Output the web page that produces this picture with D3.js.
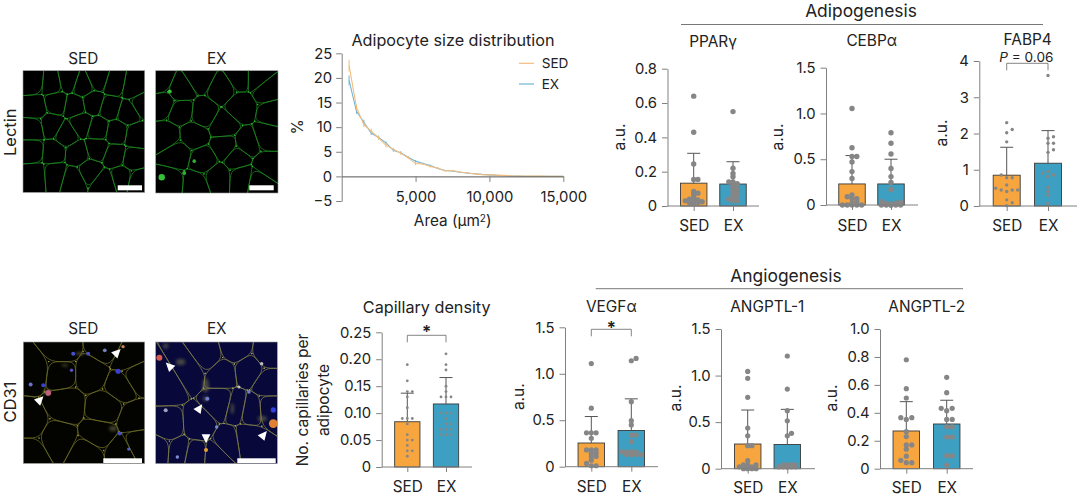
<!DOCTYPE html>
<html>
<head>
<meta charset="utf-8">
<script src="https://d3js.org/d3.v7.min.js"></script>
<style>
  html, body { margin: 0; padding: 0; background: #fff; }
  svg { display: block; }
  text { font-family: Inter, "Noto Sans", sans-serif; fill: #222; }
</style>
</head>
<body>
<div id="chart"></div>
<script>
var groups = ["SED", "EX"];

// bar heights, upper error bars and single animals
var ppargMean = [0.133, 0.128], ppargErr = [0.307, 0.258];
var ppargSed = [0.64, 0.43, 0.245, 0.155, 0.155, 0.085, 0.075, 0.07, 0.05, 0.04, 0.035, 0.03, 0.03, 0.025, 0.02, 0.02, 0.015];
var ppargEx = [0.55, 0.22, 0.19, 0.17, 0.14, 0.14, 0.13, 0.125, 0.11, 0.1, 0.09, 0.08, 0.07, 0.06, 0.05, 0.04, 0.03, 0.03];

var cebpMean = [0.23, 0.23], cebpErr = [0.54, 0.5];
var cebpSed = [1.055, 0.626, 0.53, 0.53, 0.47, 0.365, 0.29, 0.11, 0.09, 0.07, 0.07, 0.035, 0.02, 0, 0, 0, 0, 0];
var cebpEx = [0.79, 0.675, 0.557, 0.4, 0.31, 0.245, 0.17, 0.036, 0.03, 0.02, 0.02, 0.01, 0, 0, 0, 0, 0, 0];

var fabpMean = [0.85, 1.18], fabpErr = [1.62, 2.08];
var fabpSed = [2.3, 2.11, 2.02, 1.77, 0.855, 0.78, 0.78, 0.58, 0.49, 0.44, 0.44, 0.44, 0.4, 0.17, 0.09, 0.01];
var fabpEx = [3.6, 1.91, 1.87, 1.73, 1.73, 1.55, 1.48, 0.95, 0.9, 0.855, 0.81, 0.51, 0.4, 0.3, 0.07];

var capMean = [0.084, 0.117], capErr = [0.137, 0.166];
var capSed = [0.19, 0.16, 0.14, 0.14, 0.13, 0.11, 0.09, 0.09, 0.09, 0.08, 0.06, 0.05, 0.05, 0.04, 0.03, 0.03, 0.02];
var capEx = [0.21, 0.19, 0.18, 0.15, 0.14, 0.13, 0.13, 0.13, 0.1, 0.1, 0.1, 0.09, 0.08, 0.08, 0.07, 0.07, 0.07, 0.06, 0.06, 0.06];

var vegfMean = [0.255, 0.39], vegfErr = [0.54, 0.73];
var vegfSed = [1.11, 0.63, 0.365, 0.365, 0.365, 0.305, 0.18, 0.18, 0.18, 0.145, 0.145, 0.11, 0.11, 0.07, 0.035, 0.01, 0.01];
var vegfEx = [1.165, 1.14, 0.7, 0.495, 0.45, 0.34, 0.34, 0.27, 0.16, 0.16, 0.16, 0.16, 0.13, 0.13, 0.13, 0.13];

var ang1Mean = [0.265, 0.26], ang1Err = [0.63, 0.637];
var ang1Sed = [1.045, 0.97, 0.766, 0.437, 0.354, 0.247, 0.247, 0.086, 0.04, 0.04, 0.04, 0.02, 0.02, 0.02, 0, 0, 0, 0];
var ang1Ex = [1.21, 0.855, 0.623, 0.515, 0.38, 0.354, 0.04, 0.04, 0.04, 0.04, 0.02, 0.02, 0.02, 0.02, 0.02, 0.02];

var ang2Mean = [0.27, 0.32], ang2Err = [0.48, 0.49];
var ang2Sed = [0.78, 0.573, 0.506, 0.365, 0.365, 0.353, 0.265, 0.23, 0.17, 0.17, 0.14, 0.09, 0.06, 0.043, 0.043];
var ang2Ex = [0.654, 0.544, 0.432, 0.432, 0.415, 0.353, 0.353, 0.3, 0.3, 0.227, 0.227, 0.093, 0.093, 0.026];

// size distribution
var areaBins = [500, 1000, 1500, 2000, 2500, 3000, 3500, 4000, 4500, 5000, 5500, 6000, 6500, 7000, 7500,
                8000, 8500, 9000, 9500, 10000, 10500, 11000, 11500, 12000, 12500, 13000, 13500, 14000, 14500, 15000];
var sizeSed = [22.5, 14, 10.5, 9.2, 7.8, 6.3, 5.5, 4.7, 3.8, 2.6, 2.5, 2, 1.7, 1.1, 1.2,
               0.9, 0.7, 0.5, 0.35, 0.3, 0.25, 0.2, 0.1, 0.08, 0.06, 0.05, 0.05, 0.04, 0.03, 0.03];
var sizeEx = [19.5, 13.2, 11, 8.8, 7.9, 6.8, 5.3, 4.8, 3.9, 3.1, 2.6, 2.2, 1.6, 1.2, 1.1,
              0.85, 0.7, 0.55, 0.4, 0.3, 0.2, 0.15, 0.07, 0.05, 0.04, 0.03, 0.02, 0.02, 0.02, 0.02];
var sizeSedErr = [1.2, 0.6, 0.5, 0.5, 0.4, 0.4, 0.3, 0.3, 0.3, 0.3, 0.2, 0.2, 0.2, 0.1, 0.1,
                  0.1, 0.1, 0.1, 0.05, 0.05, 0.05, 0.05, 0.05, 0.03, 0.03, 0.03, 0.02, 0.02, 0.02, 0.02];
var sizeExErr = [1, 0.5, 0.5, 0.4, 0.4, 0.3, 0.3, 0.3, 0.2, 0.2, 0.2, 0.2, 0.1, 0.1, 0.1,
                 0.1, 0.1, 0.05, 0.05, 0.05, 0.05, 0.03, 0.03, 0.03, 0.02, 0.02, 0.02, 0.02, 0.02, 0.02];

// micrographs: cell centres, stained spots, haze and arrowheads, on a 365 wide image
var lectinSedCells = [[30,35],[88,40],[135,30],[180,45],[225,25],[275,40],[330,50],[35,110],[100,95],[155,105],[210,95],[262,110],[315,125],[355,100],
  [30,175],[85,165],[130,190],[175,160],[225,175],[280,185],[340,195],[30,240],[90,245],[165,250],[222,235],[275,255],[330,265],[35,315],[95,310],
  [150,325],[200,300],[245,335],[295,320],[345,330]];
var lectinExCells = [[73,58],[198,53],[143,128],[253,108],[333,58],[113,193],[203,163],[333,198],[208,228],[143,268],[273,218],
  [23,98],[33,198],[63,248],[43,333],[183,318],[303,328],[333,283],[133,20],[250,20],[303,20],[13,33],[243,258],[120,340],[75,120],[350,125],[260,320]];
var lectinExSpots = [[18,318,"#35c038",3.2],[42,62,"#35c038",2],[85,305,"#30b030",2],[115,270,"#30b030",1.8]];
var cd31SedCells = [[35,84],[110,24],[205,94],[310,49],[335,104],[295,129],[125,189],[245,199],[335,234],[20,244],[100,289],
  [20,334],[195,339],[230,279],[290,329],[110,94],[250,19],[345,300]];
var cd31ExCells = [[34,124],[99,84],[154,44],[199,94],[279,84],[339,124],[129,254],[39,259],[69,324],[239,194],[289,204],[279,294],
  [199,184],[214,304],[119,334],[179,339],[339,34],[10,320],[240,20],[340,200]];
var cd31SedSpots = [[150,35,"#4a50d0",2],[195,35,"#4a50d0",1.9],[285,88,"#3c3cd0",2.6],[145,85,"#5a50c0",1.7],[22,128,"#6a70d0",2],[60,130,"#3a40d0",2],
  [75,153,"#c06080",2.8],[290,275,"#4a50c0",2],[317,322,"#5060c0",1.7],[300,14,"#c08060",1.7],[245,25,"#7080c0",1.9]];
var cd31ExSpots = [[11,47,"#d85a50",3],[155,170,"#7080d0",2],[353,204,"#3040e0",2.6],[353,245,"#e08030",4.4],[151,324,"#e0a030",2],[183,255,"#7090d0",1.7],
  [280,150,"#7080d0",1.7],[318,65,"#c0c0c0",1.7],[250,135,"#c0c0c0",1.5],[65,345,"#8090d0",1.7],[30,205,"#a0a0c0",2]];
var cd31SedHaze = [[170,35,14,5],[125,70,10,4],[70,150,12,8],[270,260,12,8]];
var cd31ExHaze = [[150,130,10,22],[75,60,14,10],[230,200,5,16],[320,230,14,8],[30,12,8,8],[150,170,8,8]];
var cd31SedArrows = [[282,32,45],[50,174,45]];
var cd31ExArrows = [[41,72,-45],[131,199,35],[151,289,180],[324,279,40]];

var fig = { width: 1080, height: 498 };

var svg = d3.select("#chart").append("svg")
    .attr("width", fig.width)
    .attr("height", fig.height);

var defs = svg.append("defs");
defs.append("filter").attr("id", "soft").append("feGaussianBlur").attr("stdDeviation", 0.4);
defs.append("filter").attr("id", "spot").append("feGaussianBlur").attr("stdDeviation", 0.7);
defs.append("filter").attr("id", "wide").append("feGaussianBlur").attr("stdDeviation", 1.4);

micrograph({ id: "lsed", x0: 23, y0: 70.7, size: 121.7, bg: "#000", cells: lectinSedCells, line: "#1d8a20", junction: "#2fb833", bar: [117.7, 142, 185.3, 190.3] });
micrograph({ id: "lex", x0: 155.7, y0: 70.7, size: 122.3, bg: "#000", cells: lectinExCells, line: "#1d8a20", junction: "#2fb833", spots: lectinExSpots, bar: [249.3, 273.7, 185.3, 190.3] });
micrograph({ id: "csed", x0: 23.3, y0: 342, size: 121.4, bg: "#030300", cells: cd31SedCells, line: "#6e6e28", junction: "#9a9a3a", spots: cd31SedSpots,
             haze: cd31SedHaze, arrows: cd31SedArrows, bar: [103.3, 142, 458.3, 463] });
micrograph({ id: "cex", x0: 155.7, y0: 342, size: 121.6, bg: "#08083a", cells: cd31ExCells, line: "#7f7f4a", junction: "#a8a85a", spots: cd31ExSpots,
             haze: cd31ExHaze, arrows: cd31ExArrows, bar: [237.3, 275.7, 458.3, 463] });

label(83.3, 64, "SED");
label(216.7, 64, "EX");
label(83.3, 334, "SED");
label(216.7, 334, "EX");
sideLabel(10, 132.3, "Lectin").style("font-size", "16.5px");
sideLabel(10, 402, "CD31").style("font-size", "16.5px");

sizeChart();

header(861, 17, "Adipogenesis", 681, 1043, 24.5);
header(786, 282, "Angiogenesis", 595.7, 963, 288.7);

barPanel({ title: "PPARγ", titleX: 713, titleY: 47, axisX: 667.5, endX: 759, y0: 206, y1: 68.7, max: 0.8, ticks: [0, 0.2, 0.4, 0.6, 0.8],
           c: [693.7, 733], barW: 26.5, labelX: 619.5, labelY: 137, catY: 231, r: 2.7, gap: 4.2, mean: ppargMean, err: ppargErr, dots: [ppargSed, ppargEx] });
barPanel({ title: "CEBPα", titleX: 871.7, titleY: 46, axisX: 826, endX: 918, y0: 205, y1: 67.7, max: 1.5, ticks: [0, 0.5, 1, 1.5],
           c: [852, 891], barW: 26.5, labelX: 778, labelY: 137, catY: 231, r: 2.7, gap: 4.8, mean: cebpMean, err: cebpErr, dots: [cebpSed, cebpEx] });
barPanel({ title: "FABP4", titleX: 1027.7, titleY: 45, axisX: 979.3, endX: 1077, y0: 206, y1: 61, max: 4, ticks: [0, 1, 2, 3, 4], tickFmt: "d",
           c: [1006.7, 1048], barW: 27, labelX: 941.7, labelY: 133, catY: 231, r: 1.7, gap: 5.5, mean: fabpMean, err: fabpErr, dots: [fabpSed, fabpEx],
           bracket: { y: 63.3, drop: 7, p: true, textY: 62 } });
barPanel({ title: "Capillary density", titleX: 426.7, titleY: 312.7, titleSize: 16.2, axisX: 381.7, endX: 472, y0: 467, y1: 332.3, max: 0.25, ticks: [0, 0.05, 0.1, 0.15, 0.2, 0.25], tickFmt: ".2f",
           c: [407.3, 446], barW: 25.3, catY: 492, r: 1.4, gap: 5, mean: capMean, err: capErr, dots: [capSed, capEx],
           bracket: { y: 335.3, drop: 7, textY: 338 } });
barPanel({ title: "VEGFα", titleX: 611.3, titleY: 312.3, axisX: 565, endX: 658, y0: 466.7, y1: 327.3, max: 1.5, ticks: [0, 0.5, 1, 1.5],
           c: [591.3, 631.3], barW: 26.5, labelX: 519, labelY: 396.7, catY: 491.7, r: 2.6, gap: 4.8, mean: vegfMean, err: vegfErr, dots: [vegfSed, vegfEx],
           bracket: { y: 329.3, drop: 7, textY: 333.5 } });
barPanel({ title: "ANGPTL-1", titleX: 767.3, titleY: 312, axisX: 721, endX: 815, y0: 468.7, y1: 329, max: 1.5, ticks: [0, 0.5, 1, 1.5],
           c: [747.7, 787.3], barW: 26.5, labelX: 675.7, labelY: 398, catY: 493.3, r: 2.6, gap: 4.2, mean: ang1Mean, err: ang1Err, dots: [ang1Sed, ang1Ex] });
barPanel({ title: "ANGPTL-2", titleX: 926.7, titleY: 312, axisX: 880, endX: 973, y0: 468.7, y1: 329, max: 1, ticks: [0, 0.2, 0.4, 0.6, 0.8, 1],
           c: [906.3, 946.7], barW: 26.5, labelX: 831.7, labelY: 398, catY: 493.3, r: 2.6, gap: 5.5, mean: ang2Mean, err: ang2Err, dots: [ang2Sed, ang2Ex] });

// capillary y label sits on two lines
sideLabel(302.7, 400, "No. capillaries per");
sideLabel(323.3, 400, "adipocyte");

function label(x, y, txt){
    return svg.append("text")
              .attr("x", x)
              .attr("y", y)
              .attr("text-anchor", "middle")
              .style("font-size", "15.3px")
              .text(txt);
}

function sideLabel(x, y, txt){
    return svg.append("text")
              .attr("transform", "translate(" + x + "," + y + ") rotate(-90)")
              .attr("text-anchor", "middle")
              .attr("dy", "0.35em")
              .style("font-size", "15.5px")
              .text(txt);
}

function header(x, y, txt, x1, x2, lineY){
    label(x, y, txt).style("font-size", "17.4px");
    svg.append("line")
       .attr("x1", x1).attr("x2", x2)
       .attr("y1", lineY).attr("y2", lineY)
       .attr("stroke", "#555")
       .attr("stroke-width", 0.8);
}

function styleAxis(g){
    g.select(".domain").attr("stroke", "#808080").attr("stroke-width", 1);
    g.selectAll(".tick line").attr("stroke", "#808080").attr("stroke-width", 1);
    g.selectAll(".tick text").style("font-size", "14.8px").style("fill", "#222");
}

// rows of dots, same value goes side by side, kept inside the bar
function swarm(values, y, gap, limit){
    var placed = [];
    values.slice().sort(d3.ascending).forEach(function(v){
        var py = y(v), best = 0, bestDist = -1;
        for (var k = 0; k * gap / 2 <= limit; k++){
            var off = (k % 2 ? 1 : -1) * Math.ceil(k / 2) * gap;
            if (Math.abs(off) > limit) continue;
            var dist = d3.min(placed, p => Math.hypot(p.off - off, (p.py - py) * 1.6));
            if (dist === undefined || dist >= gap * 0.95){
                best = off;
                bestDist = Infinity;
                break;
            }
            if (dist > bestDist){
                best = off;
                bestDist = dist;
            }
        }
        placed.push({ off: best, py: py });
    });
    return placed;
}

function barPanel(p){
    var x = d3.scalePoint().domain(groups).range(p.c);
    var y = d3.scaleLinear().domain([0, p.max]).range([p.y0, p.y1]);
    var colors = d3.scaleOrdinal().domain(groups).range(["#f7a63f", "#3d9fc1"]);
    var g = svg.append("g");

    label(p.titleX, p.titleY, p.title).style("font-size", (p.titleSize || 15.4) + "px");

    if (p.labelX){
        sideLabel(p.labelX, p.labelY, "a.u.");
    }

    g.selectAll("rect.bar")
     .data(groups)
     .enter()
     .append("rect")
     .attr("class", "bar")
     .attr("x", d => x(d) - p.barW / 2)
     .attr("width", p.barW)
     .attr("y", (d, i) => y(p.mean[i]))
     .attr("height", (d, i) => y(0) - y(p.mean[i]))
     .attr("fill", d => colors(d))
     .attr("stroke", "#3a3a3a")
     .attr("stroke-width", 0.9);

    var err = g.selectAll("g.err")
               .data(groups)
               .enter()
               .append("g")
               .attr("stroke", "#555")
               .attr("stroke-width", 1);
    err.append("line")
       .attr("x1", d => x(d)).attr("x2", d => x(d))
       .attr("y1", (d, i) => y(p.mean[i]))
       .attr("y2", (d, i) => y(p.err[i]));
    err.append("line")
       .attr("x1", d => x(d) - 6.5).attr("x2", d => x(d) + 6.5)
       .attr("y1", (d, i) => y(p.err[i]))
       .attr("y2", (d, i) => y(p.err[i]));

    groups.forEach(function(name, i){
        g.selectAll("circle.d" + i)
         .data(swarm(p.dots[i], y, p.gap, p.barW / 2 - 1))
         .enter()
         .append("circle")
         .attr("class", "d" + i)
         .attr("cx", d => x(name) + d.off)
         .attr("cy", d => d.py)
         .attr("r", p.r)
         .attr("fill", "#868686");
    });

    var fmt = p.tickFmt ? d3.format(p.tickFmt) : d3.format(".1f");
    g.append("g")
     .attr("transform", "translate(" + p.axisX + ",0)")
     .call(d3.axisLeft(y).tickValues(p.ticks).tickSize(5.5).tickSizeOuter(0).tickPadding(5)
             .tickFormat(d => d === 0 ? "0" : fmt(d)))
     .call(styleAxis);

    var bottom = g.append("g")
     .attr("transform", "translate(0," + p.y0 + ")")
     .call(d3.axisBottom(x).tickSize(5).tickSizeOuter(0))
     .call(styleAxis);
    bottom.select(".domain").attr("d", "M" + p.axisX + ",0H" + p.endX);
    bottom.selectAll(".tick text").attr("y", 0).attr("dy", 0)
          .style("font-size", "15.3px")
          .attr("transform", "translate(0," + (p.catY - p.y0) + ")");

    if (p.bracket){
        var b = p.bracket;
        g.append("path")
         .attr("fill", "none")
         .attr("stroke", "#666")
         .attr("stroke-width", 0.8)
         .attr("d", d3.line()([[x("SED"), b.y + b.drop], [x("SED"), b.y], [x("EX"), b.y], [x("EX"), b.y + b.drop]]));
        var mid = (x("SED") + x("EX")) / 2;
        if (b.p){
            var t = label(mid - 1, b.textY, "").style("font-size", "13.6px");
            t.append("tspan").style("font-style", "italic").text("P");
            t.append("tspan").text(" = 0.06");
        } else {
            label(mid, b.textY, "*").style("font-size", "17px").style("font-weight", 600);
        }
    }
}

function sizeChart(){
    var x = d3.scaleLinear().domain([0, 15000]).range([341.7, 563.3]);
    var y = d3.scaleLinear().domain([-5, 25]).range([201, 53.3]);
    var g = svg.append("g");

    label(453, 46, "Adipocyte size distribution").style("font-size", "16.2px");
    sideLabel(298, 127, "%");

    var xl = label(452.7, 225.7, "Area (μm");
    xl.append("tspan").attr("dy", "-0.4em").style("font-size", "10px").text("2");
    xl.append("tspan").attr("dy", "0.26em").text(")");

    var series = [
        { name: "SED", values: sizeSed, errs: sizeSedErr, color: "#f4bd7c", legendY: 63.3 },
        { name: "EX", values: sizeEx, errs: sizeExErr, color: "#70b5d4", legendY: 84 }
    ];
    // EX is underneath, SED on top
    series.slice().reverse().forEach(function(s){
        g.append("path")
         .attr("fill", "none")
         .attr("stroke", s.color)
         .attr("stroke-width", 1.1)
         .attr("d", d3.line().x((d, i) => x(areaBins[i])).y(d => y(d))(s.values));
        g.selectAll("line.e" + s.name)
         .data(s.values)
         .enter()
         .append("line")
         .attr("class", "e" + s.name)
         .attr("x1", (d, i) => x(areaBins[i]))
         .attr("x2", (d, i) => x(areaBins[i]))
         .attr("y1", (d, i) => y(d - s.errs[i]))
         .attr("y2", (d, i) => y(d + s.errs[i]))
         .attr("stroke", s.color)
         .attr("stroke-width", 1);
    });
    series.forEach(function(s){
        g.append("line")
         .attr("x1", 519).attr("x2", 534)
         .attr("y1", s.legendY).attr("y2", s.legendY)
         .attr("stroke", s.color)
         .attr("stroke-width", 1.2);
        g.append("text")
         .attr("x", 541.7)
         .attr("y", s.legendY + 4.9)
         .style("font-size", "13.6px")
         .text(s.name);
    });

    g.append("g")
     .attr("transform", "translate(341.7,0)")
     .call(d3.axisLeft(y).tickValues([-5, 0, 5, 10, 15, 20, 25]).tickSize(5.5).tickSizeOuter(0).tickPadding(4)
             .tickFormat(d => d < 0 ? "−" + Math.abs(d) : d))
     .call(styleAxis);
    var xa = g.append("g")
     .attr("transform", "translate(0," + y(0) + ")")
     .call(d3.axisBottom(x).tickValues([5000, 10000, 15000]).tickSize(5.5).tickSizeOuter(0).tickPadding(10)
             .tickFormat(d3.format(",")))
     .call(styleAxis);
    xa.select(".domain").attr("stroke", "#555");
}

function micrograph(m){
    var scale = d3.scaleLinear().domain([0, 365]).range([0, m.size]);
    var voronoi = d3.Delaunay.from(m.cells).voronoi([-30, -30, 395, 395]);
    var g = svg.append("g").attr("transform", "translate(" + m.x0 + "," + m.y0 + ")");

    defs.append("clipPath").attr("id", "clip-" + m.id)
        .append("rect").attr("width", m.size).attr("height", m.size);

    g.append("rect").attr("width", m.size).attr("height", m.size).attr("fill", m.bg);

    var inner = g.append("g").attr("clip-path", "url(#clip-" + m.id + ")");

    if (m.haze){
        inner.append("g").attr("filter", "url(#wide)")
             .selectAll("ellipse")
             .data(m.haze)
             .enter()
             .append("ellipse")
             .attr("cx", d => scale(d[0]))
             .attr("cy", d => scale(d[1]))
             .attr("rx", d => scale(d[2]))
             .attr("ry", d => scale(d[3]))
             .attr("fill", "#6d6d4a")
             .attr("opacity", 0.6);
    }

    var soft = inner.append("g").attr("filter", "url(#soft)");
    // midpoints keep shared walls together, corners round off into small gaps
    var outline = d3.line().x(d => scale(d[0])).y(d => scale(d[1])).curve(d3.curveBasisClosed);
    var polys = m.cells.map((d, i) => voronoi.cellPolygon(i).slice(0, -1));

    soft.selectAll("path.cell")
        .data(polys)
        .enter()
        .append("path")
        .attr("class", "cell")
        .attr("fill", "none")
        .attr("stroke", m.line)
        .attr("stroke-width", 0.75)
        .attr("d", function(poly){
            var pts = [];
            poly.forEach(function(v, i){
                var n = poly[(i + 1) % poly.length];
                pts.push(v);
                pts.push([(v[0] + n[0]) / 2, (v[1] + n[1]) / 2]);
            });
            return outline(pts);
        });

    soft.selectAll("g.junction")
        .data(polys)
        .enter()
        .append("g")
        .selectAll("circle")
        .data(d => d)
        .enter()
        .append("circle")
        .attr("cx", d => scale(d[0]))
        .attr("cy", d => scale(d[1]))
        .attr("r", 0.7)
        .attr("fill", m.junction)
        .attr("opacity", 0.7);

    if (m.spots){
        inner.append("g").attr("filter", "url(#spot)")
            .selectAll("circle")
            .data(m.spots)
            .enter()
            .append("circle")
            .attr("cx", d => scale(d[0]))
            .attr("cy", d => scale(d[1]))
            .attr("r", d => d[3])
            .attr("fill", d => d[2]);
    }
    if (m.arrows){
        inner.selectAll("path.arrow")
             .data(m.arrows)
             .enter()
             .append("path")
             .attr("class", "arrow")
             .attr("fill", "#fff")
             .attr("d", "M0,-5L4.4,4L-4.4,4Z")
             .attr("transform", d => "translate(" + scale(d[0]) + "," + scale(d[1]) + ") rotate(" + d[2] + ")");
    }

    g.append("rect").attr("width", m.size).attr("height", m.size)
     .attr("fill", "none").attr("stroke", "#999").attr("stroke-width", 0.6);

    svg.append("rect")
       .attr("x", m.bar[0]).attr("width", m.bar[1] - m.bar[0])
       .attr("y", m.bar[2]).attr("height", m.bar[3] - m.bar[2])
       .attr("fill", "#fff");
}
</script>
</body>
</html>
